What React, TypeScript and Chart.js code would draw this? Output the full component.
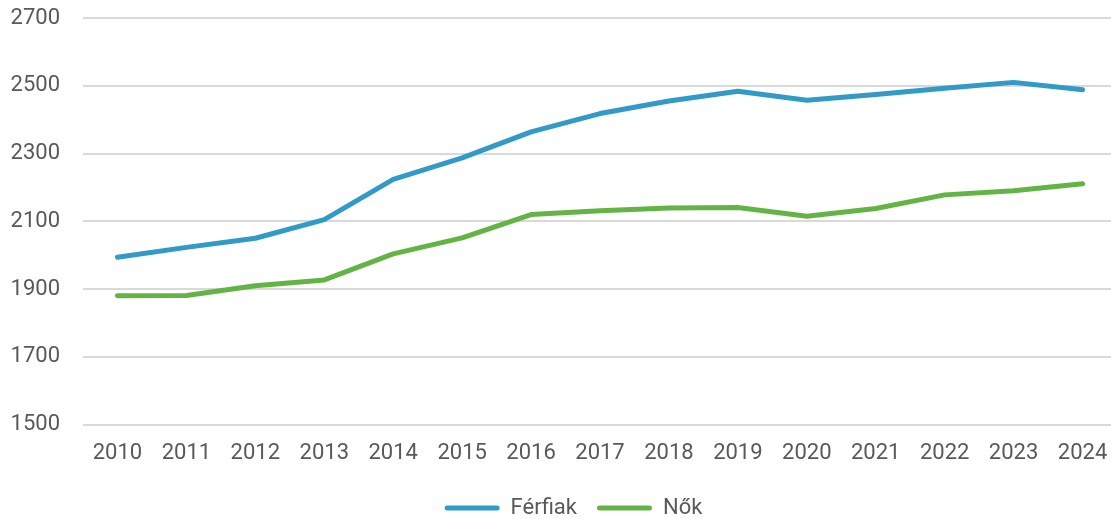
import React, { useEffect, useRef } from "react";
import { Chart, registerables } from "chart.js";

Chart.register(...registerables);

const years = ["2010","2011","2012","2013","2014","2015","2016","2017","2018","2019","2020","2021","2022","2023","2024"];
const ferfiak = [1994, 2023, 2050, 2105, 2224, 2287, 2364, 2418, 2455, 2484, 2457, 2474, 2493, 2510, 2488];
const nok = [1880, 1881, 1910, 1927, 2004, 2051, 2120, 2131, 2139, 2141, 2115, 2138, 2178, 2190, 2211];
const yMin = 1500;
const yMax = 2700;
const yStep = 200;

const FONT = "Roboto, 'Open Sans', 'DejaVu Sans', sans-serif";
const TEXT = "#595959";
const CW = 1117;
const CH = 527;

const legendShift = {
  id: "legendShift",
  afterLayout(chart: any) {
    const lg = chart.legend;
    if (!lg) return;
    const dx = 15;
    const dy = 2;
    lg.left += dx;
    lg.right += dx;
    lg.top += dy;
    lg.bottom += dy;
  },
};

export default function App() {
  const ref = useRef<HTMLCanvasElement | null>(null);
  useEffect(() => {
    document.body.style.margin = "0";
    document.body.style.overflow = "hidden";
    const ctx = ref.current!;
    const chart = new Chart(ctx, {
      type: "line",
      data: {
        labels: years,
        datasets: [
          {
            label: "Férfiak",
            data: ferfiak,
            borderColor: "#329AC6",
            backgroundColor: "#329AC6",
            borderWidth: 5,
            pointRadius: 0,
            tension: 0,
            borderCapStyle: "round",
            borderJoinStyle: "round",
          },
          {
            label: "Nők",
            data: nok,
            borderColor: "#64B445",
            backgroundColor: "#64B445",
            borderWidth: 5,
            pointRadius: 0,
            tension: 0,
            borderCapStyle: "round",
            borderJoinStyle: "round",
          },
        ],
      },
      plugins: [legendShift],
      options: {
        responsive: false,
        animation: false,
        layout: { padding: { top: 18, right: 0, bottom: 0, left: 0 } },
        plugins: {
          tooltip: { enabled: false },
          legend: {
            position: "bottom",
            labels: {
              boxWidth: 55,
              boxHeight: 5,
              padding: 20,
              color: TEXT,
              font: { family: FONT, size: 22 },
              generateLabels: (c: any) =>
                c.data.datasets.map((d: any, i: number) => ({
                  text: d.label,
                  fillStyle: d.borderColor,
                  strokeStyle: d.borderColor,
                  lineWidth: 0,
                  fontColor: TEXT,
                  datasetIndex: i,
                  borderRadius: 2.5,
                })),
            },
          },
        },
        scales: {
          x: {
            offset: true,
            grid: { display: false },
            border: { display: false },
            ticks: { color: TEXT, font: { family: FONT, size: 22 }, padding: 8, maxRotation: 0 },
          },
          y: {
            min: yMin,
            max: yMax,
            border: { display: false },
            grid: { color: "#D9D9D9", lineWidth: 2, drawTicks: false },
            ticks: {
              stepSize: yStep,
              color: TEXT,
              font: { family: FONT, size: 22 },
              padding: 23,
              callback: (v: any) => String(v),
            },
            afterFit: (s: any) => { s.width = 83; s.paddingTop = 0; s.paddingBottom = 0; },
          },
        },
      },
    });
    return () => chart.destroy();
  }, []);
  return (
    <div style={{ position: "absolute", left: 0, top: 0, width: 1111, height: 519, overflow: "hidden" }}>
      <canvas ref={ref} width={CW} height={CH} style={{ width: CW, height: CH, display: "block" }} />
    </div>
  );
}
